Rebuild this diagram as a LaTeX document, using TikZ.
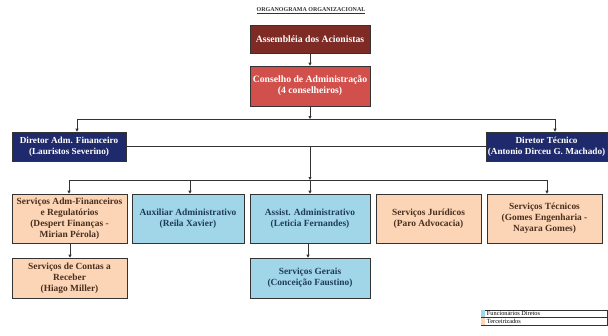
\documentclass[tikz,border=0pt]{standalone}
\usepackage{fontspec}
\setmainfont{Liberation Serif}
\usetikzlibrary{arrows.meta,shadows}
\definecolor{assemb}{HTML}{7E2A25}
\definecolor{conse}{HTML}{D2504B}
\definecolor{direc}{HTML}{1F2A6C}
\definecolor{orangebox}{HTML}{FBD5B6}
\definecolor{bluebox}{HTML}{A0D6E7}
\definecolor{orangetxt}{HTML}{4A2E1E}
\definecolor{bluetxt}{HTML}{1F3B5C}
\definecolor{linec}{HTML}{333333}
\begin{document}
\begin{tikzpicture}[x=1pt,y=-1pt,
  box/.style={draw=linec, line width=0.6pt, inner sep=0pt, align=center,
    font=\bfseries\fontsize{9.4}{11}\selectfont,
    drop shadow={shadow xshift=1pt, shadow yshift=-1pt, opacity=0.25}},
  topbox/.style={box, text=white, font=\bfseries\fontsize{9.7}{11}\selectfont},
  dirbox/.style={box, fill=direc, text=white, font=\bfseries\fontsize{9.2}{11}\selectfont},
  obox/.style={box, fill=orangebox, text=orangetxt},
  bbox/.style={box, fill=bluebox, text=bluetxt},
  conn/.style={draw=linec, line width=0.8pt},
  arr/.style={conn, -{Triangle[length=3pt,width=3pt]}}]
\useasboundingbox (0,0) rectangle (608,335);
\fill[white] (0,0) rectangle (608,335);

\node[font=\bfseries\fontsize{6}{7}\selectfont, text=black!80] (title) at (311,11) {\underline{ORGANOGRAMA ORGANIZACIONAL}};

\node[topbox, fill=assemb, minimum width=120pt, minimum height=28pt] (assemb) at (310,39) {Assembléia dos Acionistas};
\node[topbox, fill=conse, minimum width=120pt, minimum height=40pt] (cons) at (310,86) {Conselho de Administração\\(4 conselheiros)};

\node[dirbox, minimum width=114pt, minimum height=29pt] (dl) at (69,146.5) {Diretor Adm. Financeiro\\(Lauristos Severino)};
\node[dirbox, minimum width=121pt, minimum height=29pt] (dr) at (546.5,146.5) {Diretor Técnico\\(Antonio Dirceu G. Machado)};

\node[obox, minimum width=115pt, minimum height=49pt] (b1) at (69.5,218.5) {Serviços Adm-Financeiros\\e Regulatórios\\(Despert Finanças -\\Mirian Pérola)};
\node[bbox, minimum width=112pt, minimum height=49pt] (b2) at (188,218.5) {Auxiliar Administrativo\\(Reila Xavier)};
\node[bbox, minimum width=120pt, minimum height=49pt] (b3) at (310,218.5) {Assist. Administrativo\\(Leticia Fernandes)};
\node[obox, minimum width=105pt, minimum height=49pt] (b4) at (428.5,218.5) {Serviços Jurídicos\\(Paro Advocacia)};
\node[obox, minimum width=115pt, minimum height=49pt] (b5) at (544.5,218.5) {Serviços Técnicos\\(Gomes Engenharia -\\Nayara Gomes)};

\node[obox, minimum width=115pt, minimum height=40pt] (c1) at (69.5,278) {Serviços de Contas a\\Receber\\(Hiago Miller)};
\node[bbox, minimum width=120pt, minimum height=40pt] (c2) at (310,278) {Serviços Gerais\\(Conceição Faustino)};

% connectors
\coordinate (busA) at (310,119);
\coordinate (busAL) at (77,119);
\coordinate (busAR) at (555,119);
\coordinate (mid) at (310,146);
\coordinate (busB) at (310,180);
\coordinate (busBL) at (69,180);
\coordinate (busB2) at (190,180);
\coordinate (busBR) at (547,180);
\coordinate (xa) at (70,0);
\coordinate (xb) at (308,0);

\draw[arr] (assemb) -- (cons);
\draw[arr] (cons.south) -- (busA);
\draw[conn] (busAL) -- (busAR);
\draw[arr] (busAL) -- (busAL |- dl.north);
\draw[arr] (busAR) -- (busAR |- dr.north);
\draw[conn] (dl.east |- mid) -- (dr.west |- mid);
\draw[arr] (mid) -- (busB);
\draw[conn] (busBL) -- (busBR);
\draw[arr] (busBL) -- (busBL |- b1.north);
\draw[arr] (busB2) -- (busB2 |- b2.north);
\draw[arr] (busB) -- (b3.north);
\draw[arr] (busBR) -- (busBR |- b5.north);
\draw[arr] (b1.south -| xa) -- (c1.north -| xa);
\draw[arr] (b3.south -| xb) -- (c2.north -| xb);

% legend
\node[draw=linec, line width=0.5pt, minimum width=126pt, minimum height=7.5pt, inner sep=0pt] (leg1) at (544,313.75) {};
\node[draw=linec, line width=0.5pt, minimum width=126pt, minimum height=7.5pt, inner sep=0pt] (leg2) at (544,321.25) {};
\fill[bluebox] ([xshift=0.3pt,yshift=-0.3pt]leg1.north west) rectangle ([xshift=4pt,yshift=0.3pt]leg1.south west);
\fill[orangebox] ([xshift=0.3pt,yshift=-0.3pt]leg2.north west) rectangle ([xshift=4pt,yshift=0.3pt]leg2.south west);
\node[anchor=west, inner sep=0pt, font=\fontsize{6.3}{7}\selectfont] (legt1) at ([xshift=6pt]leg1.west) {Funcionários Diretos};
\node[anchor=west, inner sep=0pt, font=\fontsize{6.3}{7}\selectfont] (legt2) at ([xshift=6pt]leg2.west) {Terceirizados};
\end{tikzpicture}
\end{document}
